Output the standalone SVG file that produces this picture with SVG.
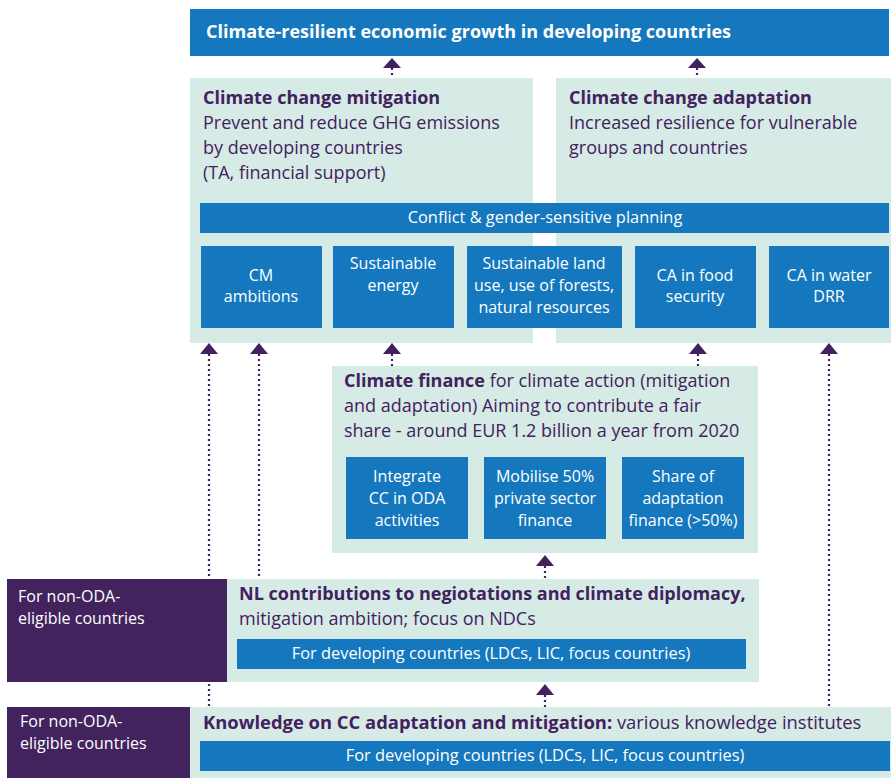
<svg xmlns="http://www.w3.org/2000/svg" width="891" height="778" viewBox="0 0 891 778">
<style>
.blue{fill:#1578BE}
.green{fill:#D6EBE5}
.purp{fill:#42235E}
text{font-family:"Open Sans","Noto Sans","Liberation Sans",sans-serif}
.w{fill:#fff;font-size:16px}
.wc{fill:#fff;font-size:16px;text-anchor:middle}
.wb{fill:#fff;font-size:16.4px;text-anchor:middle}
.t{fill:#43215E;font-size:18px}
.b{font-weight:bold}
.dot{stroke:#43215E;stroke-width:2.2;stroke-dasharray:2 3;fill:none}
.ah{fill:#43215E}
</style>
<rect width="891" height="778" fill="#fff"/>
<g id="goal">
<rect class="blue" x="190" y="9" width="699" height="47"/>
<text x="206" y="38" fill="#fff" font-size="18" font-weight="bold">Climate-resilient economic growth in developing countries</text>
</g>
<g id="mitigation">
<rect class="green" x="190" y="78" width="343" height="265"/>
<text class="t b" x="203" y="104">Climate change mitigation</text>
<text class="t" x="203" y="129">Prevent and reduce GHG emissions</text>
<text class="t" x="203" y="154">by developing countries</text>
<text class="t" x="203" y="179">(TA, financial support)</text>
</g>
<g id="adaptation">
<rect class="green" x="556" y="78" width="335" height="265"/>
<text class="t b" x="569" y="104">Climate change adaptation</text>
<text class="t" x="569" y="129">Increased resilience for vulnerable</text>
<text class="t" x="569" y="154">groups and countries</text>
</g>
<g id="conflict">
<rect class="blue" x="200" y="203" width="689" height="30"/>
<text class="wb" x="545" y="223">Conflict &amp; gender-sensitive planning</text>
</g>
<g id="cm-ambitions">
<rect class="blue" x="201" y="246" width="121" height="82"/>
<text class="wc" x="261" y="281">CM</text>
<text class="wc" x="261" y="302">ambitions</text>
</g>
<g id="sustainable-energy">
<rect class="blue" x="333" y="246" width="121" height="82"/>
<text class="wc" x="393" y="269">Sustainable</text>
<text class="wc" x="393" y="291">energy</text>
</g>
<g id="land-use">
<rect class="blue" x="467" y="246" width="155" height="82"/>
<text class="wc" x="544" y="269">Sustainable land</text>
<text class="wc" x="544" y="291">use, use of forests,</text>
<text class="wc" x="544" y="313">natural resources</text>
</g>
<g id="food">
<rect class="blue" x="635" y="246" width="121" height="82"/>
<text class="wc" x="695" y="281">CA in food</text>
<text class="wc" x="695" y="302">security</text>
</g>
<g id="water">
<rect class="blue" x="769" y="246" width="120" height="82"/>
<text class="wc" x="829" y="281">CA in water</text>
<text class="wc" x="829" y="302">DRR</text>
</g>
<g id="finance">
<rect class="green" x="332" y="366" width="426" height="187"/>
<text class="t" x="344" y="387"><tspan class="b">Climate finance</tspan> for climate action (mitigation</text>
<text class="t" x="344" y="412">and adaptation) Aiming to contribute a fair</text>
<text class="t" x="344" y="437">share - around EUR 1.2 billion a year from 2020</text>
</g>
<g id="integrate">
<rect class="blue" x="346" y="457" width="122" height="82"/>
<text class="wc" x="407" y="482">Integrate</text>
<text class="wc" x="407" y="504">CC in ODA</text>
<text class="wc" x="407" y="526">activities</text>
</g>
<g id="mobilise">
<rect class="blue" x="484" y="457" width="122" height="82"/>
<text class="wc" x="545" y="482">Mobilise 50%</text>
<text class="wc" x="545" y="504">private sector</text>
<text class="wc" x="545" y="526">finance</text>
</g>
<g id="share">
<rect class="blue" x="622" y="457" width="122" height="82"/>
<text class="wc" x="683" y="482">Share of</text>
<text class="wc" x="683" y="504">adaptation</text>
<text class="wc" x="683" y="526">finance (&gt;50%)</text>
</g>
<g id="nl-contributions">
<rect class="green" x="227" y="579" width="532" height="103"/>
<rect class="purp" x="7" y="579" width="220" height="103"/>
<text class="w" x="18" y="602">For non-ODA-</text>
<text class="w" x="18" y="624">eligible countries</text>
<text class="t b" x="239" y="600">NL contributions to negiotations and climate diplomacy,</text>
<text class="t" x="239" y="625">mitigation ambition; focus on NDCs</text>
<rect class="blue" x="237" y="639" width="509" height="30"/>
<text class="wb" x="491" y="659">For developing countries (LDCs, LIC, focus countries)</text>
</g>
<g id="knowledge">
<rect class="green" x="190" y="707" width="701" height="71"/>
<rect class="purp" x="7" y="707" width="183" height="71"/>
<text class="w" x="20" y="727">For non-ODA-</text>
<text class="w" x="20" y="749">eligible countries</text>
<text class="t" x="203" y="729" style="font-size:18.4px"><tspan class="b">Knowledge on CC adaptation and mitigation:</tspan> various knowledge institutes</text>
<rect class="blue" x="200" y="741" width="690" height="30"/>
<text class="wb" x="545" y="761">For developing countries (LDCs, LIC, focus countries)</text>
</g>
<g id="connectors">
<line class="dot" x1="392" y1="68" x2="392" y2="78"/>
<polygon class="ah" points="392,58 383,68 401,68"/>
<line class="dot" x1="697" y1="68" x2="697" y2="78"/>
<polygon class="ah" points="697,58 688,68 706,68"/>
<line class="dot" x1="209" y1="354" x2="209" y2="707"/>
<polygon class="ah" points="209,343 200,354 218,354"/>
<line class="dot" x1="259" y1="354" x2="259" y2="579"/>
<polygon class="ah" points="259,343 250,354 268,354"/>
<line class="dot" x1="392" y1="354" x2="392" y2="366"/>
<polygon class="ah" points="392,343 383,354 401,354"/>
<line class="dot" x1="698" y1="354" x2="698" y2="366"/>
<polygon class="ah" points="698,343 689,354 707,354"/>
<line class="dot" x1="829" y1="354" x2="829" y2="707"/>
<polygon class="ah" points="829,343 820,354 838,354"/>
<line class="dot" x1="545" y1="566" x2="545" y2="579"/>
<polygon class="ah" points="545,555 536,566 554,566"/>
<line class="dot" x1="545" y1="695" x2="545" y2="707"/>
<polygon class="ah" points="545,684 536,695 554,695"/>
</g>
</svg>
